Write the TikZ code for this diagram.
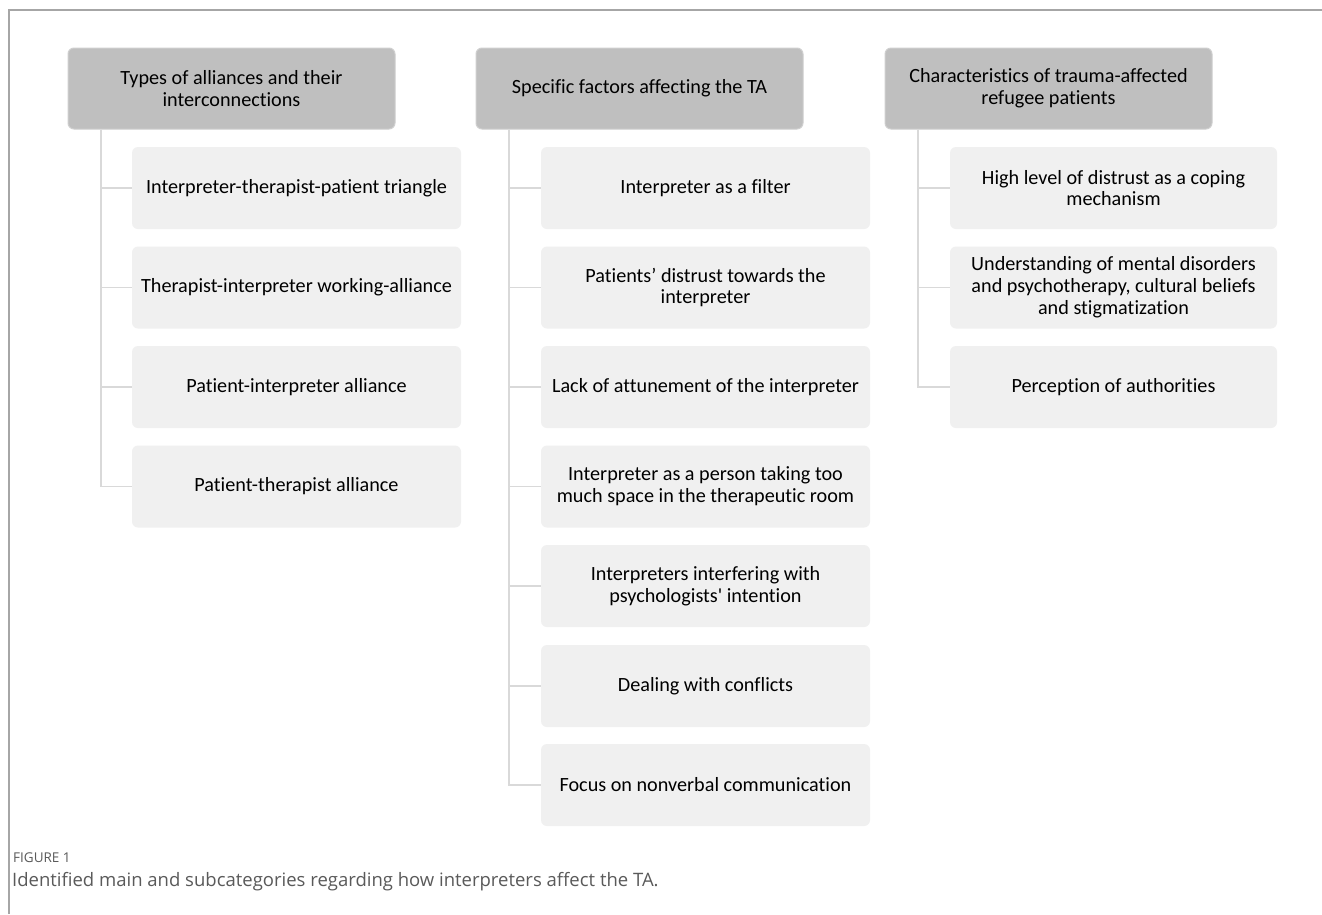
\documentclass[tikz,border=0pt]{standalone}
\usepackage{fontspec}
\setmainfont[Ligatures=NoCommon]{Carlito}
\newfontfamily\capfont{Open Sans}
\definecolor{hdrfill}{HTML}{BFBFBF}
\definecolor{hdrdraw}{HTML}{CFCFCF}
\definecolor{subfill}{HTML}{F0F0F0}
\definecolor{connc}{HTML}{D9D9D9}
\definecolor{framec}{HTML}{A6A6A6}
\definecolor{capc}{HTML}{5A5A5A}
\begin{document}
\begin{tikzpicture}[x=1pt,y=-1pt,
  hdr/.style={draw=hdrdraw,line width=1pt,fill=hdrfill,rounded corners=6pt,minimum width=327pt,minimum height=81pt,align=center,inner sep=2pt,font=\fontsize{20.2}{21.8}\selectfont},
  sub/.style={fill=subfill,rounded corners=6pt,minimum width=329pt,minimum height=82pt,align=center,inner sep=2pt,font=\fontsize{20.2}{21.8}\selectfont},
  conn/.style={draw=connc,line width=1.8pt},
  frame/.style={draw=framec,line width=1.2pt}]
\useasboundingbox (0,0) rectangle (1322,914);
\fill[white] (0,0) rectangle (1322,914);
\draw[frame] (9,914) -- (9,10) -- (1322,10);
% headers
\node[hdr] (h1) at (231.5,88.5) {Types of alliances and their\\interconnections};
\node[hdr] (h2) at (639.5,88.5) {Specific factors affecting the TA};
\node[hdr] (h3) at (1048.5,88.5) {Characteristics of trauma-affected\\refugee patients};
% column 1
\node[sub] (s11) at (296.5,188) {Interpreter-therapist-patient triangle};
\node[sub] (s12) at (296.5,287.5) {Therapist-interpreter working-alliance};
\node[sub] (s13) at (296.5,387) {Patient-interpreter alliance};
\node[sub] (s14) at (296.5,486.5) {Patient-therapist alliance};
% column 2
\node[sub] (s21) at (705.5,188) {Interpreter as a filter};
\node[sub] (s22) at (705.5,287.5) {Patients’ distrust towards the\\interpreter};
\node[sub] (s23) at (705.5,387) {Lack of attunement of the interpreter};
\node[sub] (s24) at (705.5,486.5) {Interpreter as a person taking too\\much space in the therapeutic room};
\node[sub] (s25) at (705.5,586) {Interpreters interfering with\\psychologists\textquotesingle\ intention};
\node[sub] (s26) at (705.5,686) {Dealing with conflicts};
\node[sub] (s27) at (705.5,785) {Focus on nonverbal communication};
% column 3 (clipped at right)
\begin{scope}
\clip (930,130) rectangle (1277,440);
\node[sub,minimum width=327pt] (s31) at (1113.5,188) {High level of distrust as a coping\\mechanism};
\node[sub,minimum width=327pt] (s32) at (1113.5,287.5) {Understanding of mental disorders\\and psychotherapy, cultural beliefs\\and stigmatization};
\node[sub,minimum width=327pt] (s33) at (1113.5,387) {Perception of authorities};
\end{scope}
% connectors
\coordinate (v1) at (h1.south -| 101,0);
\coordinate (v2) at (h2.south -| 509,0);
\coordinate (v3) at (h3.south -| 918,0);
\draw[conn] (v1) |- (s14.west);
\foreach \n in {s11,s12,s13} \draw[conn] (v1 |- \n.west) -- (\n.west);
\draw[conn] (v2) |- (s27.west);
\foreach \n in {s21,s22,s23,s24,s25,s26} \draw[conn] (v2 |- \n.west) -- (\n.west);
\draw[conn] (v3) |- (s33.west);
\foreach \n in {s31,s32} \draw[conn] (v3 |- \n.west) -- (\n.west);
% caption
\node[anchor=base west,inner sep=0pt,text=capc,font=\capfont\fontsize{13.5}{15}\selectfont] (cap1) at (13,862) {FIGURE 1};
\node[anchor=base west,inner sep=0pt,text=capc,font=\capfont\fontsize{18.5}{21}\selectfont] (cap2) at (12,886) {Identified main and subcategories regarding how interpreters affect the TA.};
\end{tikzpicture}
\end{document}
